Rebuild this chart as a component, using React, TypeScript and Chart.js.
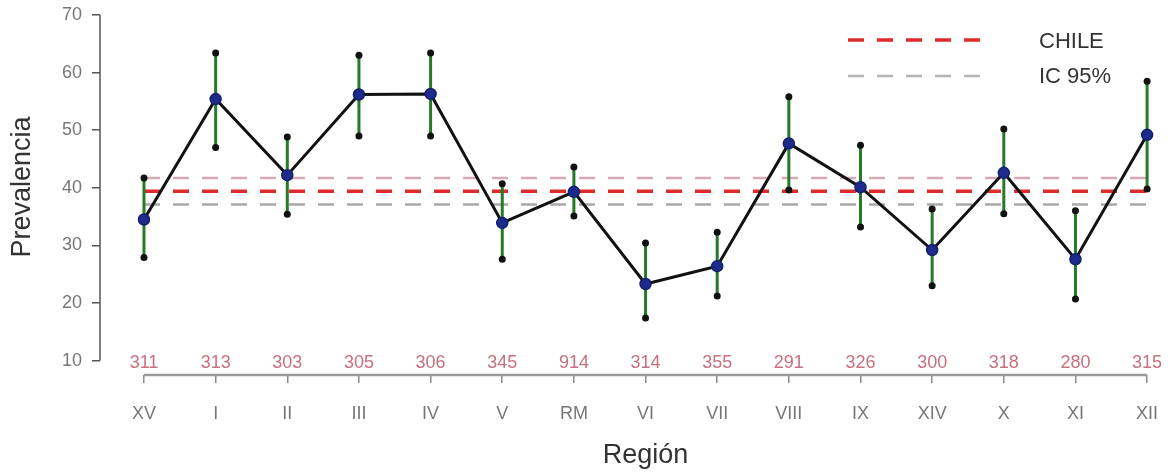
import React, { useEffect, useRef } from "react";
import { Chart, registerables } from "chart.js";

Chart.register(...registerables);

const regions = ["XV", "I", "II", "III", "IV", "V", "RM", "VI", "VII", "VIII", "IX", "XIV", "X", "XI", "XII"];
const sampleSizes = ["311", "313", "303", "305", "306", "345", "914", "314", "355", "291", "326", "300", "318", "280", "315"];
const prevalence = [34.5, 55.4, 42.2, 56.2, 56.3, 33.9, 39.3, 23.3, 26.4, 47.7, 40.1, 29.2, 42.6, 27.6, 49.2];
const upperCI = [41.7, 63.4, 48.8, 63.0, 63.4, 40.7, 43.6, 30.4, 32.3, 55.8, 47.4, 36.3, 50.2, 36.0, 58.5];
const lowerCI = [27.9, 47.0, 35.4, 49.0, 49.0, 27.6, 35.1, 17.4, 21.2, 39.6, 33.2, 23.0, 35.5, 20.7, 39.8];
const chileValue = 39.4;
const chileUpper = 41.7;
const chileLower = 37.1;
const yTicks = [10, 20, 30, 40, 50, 60, 70];
const legendLabels = ["CHILE", "IC 95%"];

const FONT = "'Liberation Sans', Arial, sans-serif";

const customPlugin = {
  id: "rstyle",
  afterDraw(chart: any) {
    const ctx = chart.ctx;
    const xs = chart.scales.x;
    const ys = chart.scales.y;
    ctx.save();
    // y axis line
    ctx.strokeStyle = "#555";
    ctx.lineWidth = 1.5;
    ctx.beginPath();
    ctx.moveTo(xs.left, ys.getPixelForValue(yTicks[0]));
    ctx.lineTo(xs.left, ys.getPixelForValue(yTicks[yTicks.length - 1]));
    ctx.stroke();
    // x axis line
    ctx.strokeStyle = "#9a9a9a";
    ctx.lineWidth = 2.5;
    ctx.beginPath();
    ctx.moveTo(xs.getPixelForValue(0), ys.bottom);
    ctx.lineTo(xs.getPixelForValue(regions.length - 1), ys.bottom);
    ctx.stroke();
    // sample sizes
    ctx.fillStyle = "#c8707e";
    ctx.font = `18px ${FONT}`;
    ctx.textAlign = "center";
    ctx.textBaseline = "middle";
    sampleSizes.forEach((s, i) => {
      ctx.fillText(s, xs.getPixelForValue(i), 363);
    });
    // titles
    ctx.fillStyle = "#333";
    ctx.font = `27px ${FONT}`;
    ctx.fillText("Región", (xs.getPixelForValue(0) + xs.getPixelForValue(regions.length - 1)) / 2, 456);
    ctx.save();
    ctx.translate(23, 187);
    ctx.rotate(-Math.PI / 2);
    ctx.font = `27px ${FONT}`;
    ctx.fillText("Prevalencia", 0, 0);
    ctx.restore();
    // legend
    ctx.setLineDash([16, 13]);
    ctx.lineWidth = 3.5;
    ctx.strokeStyle = "#dd2b2b";
    ctx.beginPath();
    ctx.moveTo(848, 40);
    ctx.lineTo(980, 40);
    ctx.stroke();
    ctx.lineWidth = 2.5;
    ctx.strokeStyle = "#b4b4b4";
    ctx.beginPath();
    ctx.moveTo(848, 76);
    ctx.lineTo(980, 76);
    ctx.stroke();
    ctx.setLineDash([]);
    ctx.fillStyle = "#333";
    ctx.font = `22px ${FONT}`;
    ctx.textAlign = "left";
    ctx.fillText(legendLabels[0], 1039, 42);
    ctx.fillText(legendLabels[1], 1039, 77);
    ctx.restore();
  },
};

export default function App() {
  const ref = useRef<HTMLCanvasElement>(null);
  useEffect(() => {
    if (!ref.current) return;
    const n = regions.length;
    const errData: any[] = [];
    for (let i = 0; i < n; i++) {
      errData.push({ x: i, y: lowerCI[i] });
      errData.push({ x: i, y: upperCI[i] });
      errData.push({ x: i, y: null });
    }
    const refLine = (v: number) => [
      { x: 0, y: v },
      { x: n - 1, y: v },
    ];
    const chart = new Chart(ref.current, {
      type: "line",
      data: {
        datasets: [
          {
            data: refLine(chileUpper),
            borderColor: "#d6aab4",
            borderWidth: 2.5,
            borderDash: [16, 13],
            pointRadius: 0,
            order: 7,
          },
          {
            data: refLine(chileLower),
            borderColor: "#a8a8a8",
            borderWidth: 2.5,
            borderDash: [16, 13],
            pointRadius: 0,
            order: 6,
          },
          {
            data: refLine(chileValue),
            borderColor: "#dd2b2b",
            borderWidth: 3.5,
            borderDash: [16, 13],
            pointRadius: 0,
            order: 5,
          },
          {
            data: errData,
            borderColor: "#267a2a",
            borderWidth: 3,
            pointRadius: 0,
            spanGaps: false,
            order: 4,
          },
          {
            data: upperCI.map((v, i) => ({ x: i, y: v })),
            showLine: false,
            pointRadius: 3.5,
            pointBackgroundColor: "#111",
            pointBorderColor: "#111",
            pointBorderWidth: 0,
            order: 3,
          },
          {
            data: lowerCI.map((v, i) => ({ x: i, y: v })),
            showLine: false,
            pointRadius: 3.5,
            pointBackgroundColor: "#111",
            pointBorderColor: "#111",
            pointBorderWidth: 0,
            order: 3,
          },
          {
            data: prevalence.map((v, i) => ({ x: i, y: v })),
            borderColor: "#111",
            borderWidth: 3,
            pointRadius: 5.5,
            pointBackgroundColor: "#1d2c8c",
            pointBorderColor: "#15206a",
            pointBorderWidth: 1.5,
            order: 1,
          },
        ],
      },
      options: {
        animation: false,
        responsive: false,
        maintainAspectRatio: false,
        events: [],
        layout: { padding: { top: 10, right: 8, left: 0, bottom: 0 } },
        plugins: {
          legend: { display: false },
          tooltip: { enabled: false },
          title: { display: false },
        },
        scales: {
          x: {
            type: "linear",
            min: -0.614,
            max: 14.18,
            afterBuildTicks: (s: any) => {
              s.ticks = regions.map((_, i) => ({ value: i }));
            },
            afterFit: (s: any) => {
              s.height = 100;
              s.paddingLeft = 0;
              s.paddingRight = 0;
            },
            ticks: {
              autoSkip: false,
              maxRotation: 0,
              color: "#777",
              font: { family: FONT, size: 18 },
              padding: 20,
              callback: (v: any) => regions[v as number] ?? "",
            },
            grid: {
              drawOnChartArea: false,
              drawTicks: true,
              tickLength: 8,
              color: "#8a8a8a",
              lineWidth: 1.5,
            },
            border: { display: false },
          },
          y: {
            type: "linear",
            min: 7.5,
            max: 70.868,
            afterBuildTicks: (s: any) => {
              s.ticks = yTicks.map((v) => ({ value: v }));
            },
            afterFit: (s: any) => {
              s.width = 100;
              s.paddingTop = 0;
              s.paddingBottom = 0;
            },
            ticks: {
              color: "#777",
              font: { family: FONT, size: 18 },
              padding: 10,
            },
            grid: {
              drawOnChartArea: false,
              drawTicks: true,
              tickLength: 8,
              color: "#555",
              lineWidth: 1.5,
            },
            border: { display: false },
          },
        },
      },
      plugins: [customPlugin],
    } as any);
    return () => chart.destroy();
  }, []);
  return (
    <div style={{ position: "absolute", left: 0, top: 0, width: 1168, height: 475, background: "#fff" }}>
      <canvas ref={ref} width={1168} height={475} style={{ width: 1168, height: 475, display: "block" }} />
    </div>
  );
}
